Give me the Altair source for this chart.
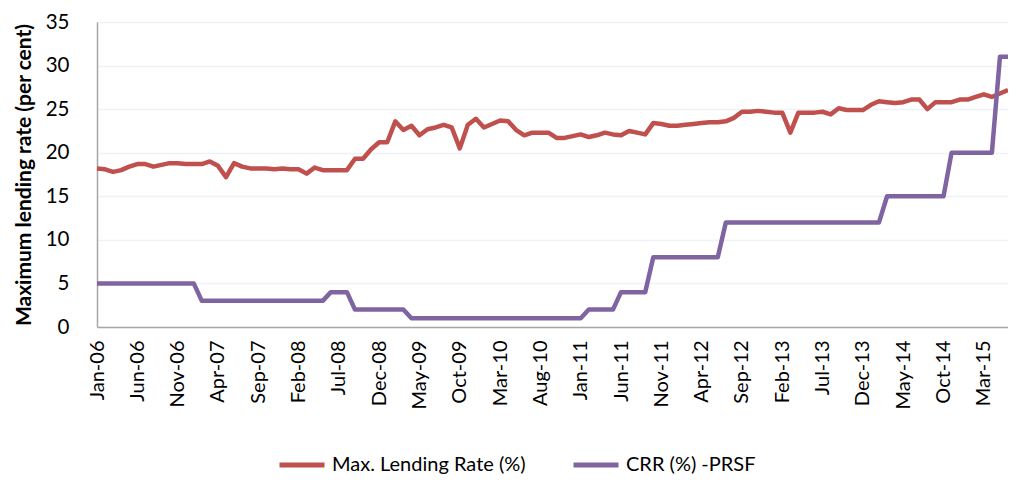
import altair as alt
import pandas as pd

MONTH_NAMES = ["Jan", "Feb", "Mar", "Apr", "May", "Jun",
               "Jul", "Aug", "Sep", "Oct", "Nov", "Dec"]
YEARS = ["06", "07", "08", "09", "10", "11", "12", "13", "14", "15"]
MONTHS = [f"{m}-{y}" for y in YEARS for m in MONTH_NAMES][:114]  # Jan-06 .. Jun-15

TICK_LABELS = ["Jan-06", "Jun-06", "Nov-06", "Apr-07", "Sep-07", "Feb-08", "Jul-08",
               "Dec-08", "May-09", "Oct-09", "Mar-10", "Aug-10", "Jan-11", "Jun-11",
               "Nov-11", "Apr-12", "Sep-12", "Feb-13", "Jul-13", "Dec-13", "May-14",
               "Oct-14", "Mar-15"]

LENDING = [
    18.2, 18.1, 17.8, 18.0, 18.4, 18.7, 18.7, 18.4, 18.6, 18.8, 18.8, 18.7,
    18.7, 18.7, 19.0, 18.5, 17.2, 18.8, 18.4, 18.2, 18.2, 18.2, 18.1, 18.2,
    18.1, 18.1, 17.6, 18.3, 18.0, 18.0, 18.0, 18.0, 19.3, 19.3, 20.4, 21.2,
    21.2, 23.6, 22.6, 23.1, 22.0, 22.7, 22.9, 23.2, 22.9, 20.5, 23.2, 23.9,
    22.9, 23.3, 23.7, 23.6, 22.6, 22.0, 22.3, 22.3, 22.3, 21.7, 21.7, 21.9,
    22.1, 21.8, 22.0, 22.3, 22.1, 22.0, 22.5, 22.3, 22.1, 23.4, 23.3, 23.1,
    23.1, 23.2, 23.3, 23.4, 23.5, 23.5, 23.6, 24.0, 24.7, 24.7, 24.8, 24.7,
    24.6, 24.6, 22.3, 24.6, 24.6, 24.6, 24.7, 24.4, 25.1, 24.9, 24.9, 24.9,
    25.5, 25.9, 25.8, 25.7, 25.8, 26.1, 26.1, 25.0, 25.8, 25.8, 25.8, 26.1,
    26.1, 26.4, 26.7, 26.4, 26.8, 27.2,
]

CRR = [
    5, 5, 5, 5, 5, 5, 5, 5, 5, 5, 5, 5,
    5, 3, 3, 3, 3, 3, 3, 3, 3, 3, 3, 3,
    3, 3, 3, 3, 3, 4, 4, 4, 2, 2, 2, 2,
    2, 2, 2, 1, 1, 1, 1, 1, 1, 1, 1, 1,
    1, 1, 1, 1, 1, 1, 1, 1, 1, 1, 1, 1,
    1, 2, 2, 2, 2, 4, 4, 4, 4, 8, 8, 8,
    8, 8, 8, 8, 8, 8, 12, 12, 12, 12, 12, 12,
    12, 12, 12, 12, 12, 12, 12, 12, 12, 12, 12, 12,
    12, 12, 15, 15, 15, 15, 15, 15, 15, 15, 20, 20,
    20, 20, 20, 20, 31, 31,
]

SERIES = ["Max. Lending Rate (%)", "CRR (%) -PRSF"]
COLORS = ["#c0504d", "#8064a2"]

df = pd.DataFrame({
    "month": MONTHS + MONTHS,
    "value": LENDING + CRR,
    "series": [SERIES[0]] * len(MONTHS) + [SERIES[1]] * len(MONTHS),
})

FONT = "Lato"

base = alt.Chart(df).mark_line(strokeWidth=4.5, strokeJoin="round", strokeCap="butt").encode(
    x=alt.X("month:O", sort=MONTHS,
            scale=alt.Scale(type="point", padding=0),
            axis=alt.Axis(values=TICK_LABELS, labelAngle=-90, title=None,
                          labelFontSize=20, labelFont=FONT, labelColor="#000000",
                          labelPadding=13, ticks=False, grid=False,
                          domainColor="#a6a6a6", domainWidth=1.5)),
    y=alt.Y("value:Q",
            scale=alt.Scale(domain=[0, 35], nice=False, zero=True),
            axis=alt.Axis(values=[0, 5, 10, 15, 20, 25, 30, 35],
                          title="Maximum lending rate (per cent)",
                          titleFont=FONT, titleFontSize=21, titleFontWeight="bold",
                          titleColor="#000000", titlePadding=11,
                          labelFontSize=20.5, labelFont=FONT, labelColor="#000000",
                          labelPadding=28, ticks=False,
                          grid=True, gridColor="#eef2f8", gridWidth=1.5,
                          domainColor="#a6a6a6", domainWidth=1.5)),
    color=alt.Color("series:N",
                    scale=alt.Scale(domain=SERIES, range=COLORS),
                    legend=alt.Legend(orient="none", legendX=180, legendY=418,
                                      direction="horizontal", title=None,
                                      symbolType="stroke", symbolSize=2025,
                                      symbolStrokeWidth=5, labelFontSize=20,
                                      labelFont=FONT, labelColor="#000000",
                                      labelLimit=400,
                                      labelOffset=5, columnPadding=37, padding=0)),
)

red = base.transform_filter(alt.datum.series == SERIES[0])
purple = base.transform_filter(alt.datum.series == SERIES[1])

chart = alt.layer(red, purple).properties(
    width=911, height=305,
    autosize=alt.AutoSizeParams(type="none"),
    padding={"left": 89, "top": 14, "right": 0, "bottom": 150},
).configure_view(stroke=None).configure(background="#ffffff")

chart.save("out.html", embed_options={"renderer": "svg", "actions": False})
